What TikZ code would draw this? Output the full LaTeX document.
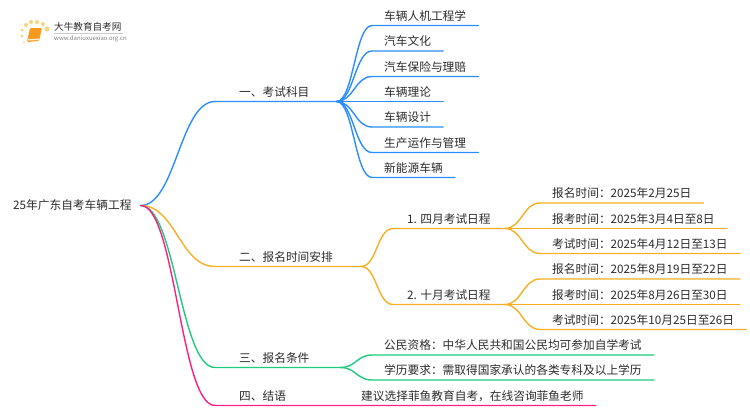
\documentclass[tikz,border=0pt]{standalone}
\usepackage{fontspec}
\setmainfont{Noto Sans CJK SC}
\usetikzlibrary{positioning}

\definecolor{inkgrey}{HTML}{2B2B2B}
\definecolor{blueline}{HTML}{2A8EFF}
\definecolor{orangeline}{HTML}{FAAE24}
\definecolor{greenline}{HTML}{1FCB7E}
\definecolor{pinkline}{HTML}{FF1F80}
\definecolor{bookorange}{HTML}{F79A1E}
\definecolor{dotyellow}{HTML}{FBD27A}

\tikzset{
  topic/.style={anchor=south west,inner ysep=3.2pt,text height=10pt,text depth=2pt,
    text=inkgrey,font=\fontsize{11.7pt}{12pt}\selectfont},
  main/.style={topic,inner xsep=24pt},
  sub/.style={topic,inner xsep=14pt},
  leaf/.style={topic,inner xsep=12pt},
  wire/.style={line width=1.4pt,line cap=round,line join=round},
  dot/.style={circle,fill=dotyellow,inner sep=0pt}
}

\begin{document}
\begin{tikzpicture}[x=1pt,y=-1pt]
\useasboundingbox (0,0) rectangle (750,410);

% logo
\node (dot1) [dot,minimum size=3pt] at (22,36) {};
\node (dot2) [dot,minimum size=3pt] at (22,30) {};
\node (dot3) [dot,minimum size=4pt] at (26,25) {};
\node (dot4) [dot,minimum size=4pt] at (31,22) {};
\node (dot5) [dot,minimum size=4pt] at (37,22) {};
\node (dot6) [dot,minimum size=4pt] at (43,24) {};
\node (dot7) [dot,minimum size=5pt] at (47,29) {};
\node (dot8) [dot,minimum size=2pt] at (24,42) {};
\fill[bookorange,rounded corners=1pt] (30,28) -- (42,28) -- (39,41) -- (27,42) -- cycle;
\fill[white!80!bookorange] (28.5,39) -- (39.5,38.5) -- (39,40) -- (28,40.5) -- cycle;
\node (logotext) [inner sep=0pt,anchor=west,text=inkgrey,font=\fontsize{9.6pt}{10pt}\selectfont] at (54,26.5) {大牛教育自考网};
\node (logourl) [inner sep=0pt,anchor=west,text=gray,font=\fontsize{6pt}{7pt}\selectfont] at (54,39) {www.daniuxuexiao.org.cn};
\draw[gray!40,line width=.5pt] (54,33) -- (123,33);

\node (root) [anchor=west,inner sep=0pt,text=inkgrey,font=\fontsize{11.7pt}{12pt}\selectfont] at (13,205.5) {25年广东自考车辆工程};
\coordinate[right=9pt of root] (hub);

\node (a) [main] at (215,101.5) {一、考试科目};
\node (b) [main] at (215,266.5) {二、报名时间安排};
\node (c) [main] at (215,367.5) {三、报名条件};
\node (d) [main] at (215,405.5) {四、结语};
\coordinate[right=3pt of a.south east] (ja);
\coordinate[right=4pt of b.south east] (jb);
\coordinate[right=7pt of c.south east] (jc);

\node (a1) [leaf] at (372,25.5) {车辆人机工程学};
\node (a2) [leaf] at (372,51) {汽车文化};
\node (a3) [leaf] at (372,76.5) {汽车保险与理赔};
\node (a4) [leaf] at (372,101.5) {车辆理论};
\node (a5) [leaf] at (372,127) {车辆设计};
\node (a6) [leaf] at (372,152.5) {生产运作与管理};
\node (a7) [leaf] at (372,177.5) {新能源车辆};

\node (b1) [sub] at (393,228.5) {1. 四月考试日程};
\node (b2) [sub] at (393,304.5) {2. 十月考试日程};
\node (b11) [leaf] at (540,203) {报名时间：2025年2月25日};
\node (b12) [leaf] at (540,228.5) {报考时间：2025年3月4日至8日};
\node (b13) [leaf] at (540,253.5) {考试时间：2025年4月12日至13日};
\node (b21) [leaf] at (540,279) {报名时间：2025年8月19日至22日};
\node (b22) [leaf] at (540,304.5) {报考时间：2025年8月26日至30日};
\node (b23) [leaf] at (540,329.5) {考试时间：2025年10月25日至26日};

\node (c1) [leaf] at (372,355) {公民资格：中华人民共和国公民均可参加自学考试};
\node (c2) [leaf] at (372,380) {学历要求：需取得国家承认的各类专科及以上学历};
\node (d1) [leaf] at (349,405.5) {建议选择菲鱼教育自考，在线咨询菲鱼老师};

\draw[wire,blueline] (hub) .. controls +(35,0) and +(-35,0) .. (a.south west) -- (ja);
\draw[wire,orangeline] (hub) .. controls +(35,0) and +(-35,0) .. (b.south west) -- (jb);
\draw[wire,greenline] (hub) .. controls +(35,0) and +(-35,0) .. (c.south west) -- (jc);
\draw[wire,pinkline] (hub) .. controls +(35,0) and +(-35,0) .. (d.south west) -- (d1.south east);

\draw[wire,blueline] (ja) .. controls +(17,0) and +(-17,0) .. (a1.south west) -- (a1.south east);
\draw[wire,blueline] (ja) .. controls +(17,0) and +(-17,0) .. (a2.south west) -- (a2.south east);
\draw[wire,blueline] (ja) .. controls +(17,0) and +(-17,0) .. (a3.south west) -- (a3.south east);
\draw[wire,blueline] (ja) -- (a4.south east);
\draw[wire,blueline] (ja) .. controls +(17,0) and +(-17,0) .. (a5.south west) -- (a5.south east);
\draw[wire,blueline] (ja) .. controls +(17,0) and +(-17,0) .. (a6.south west) -- (a6.south east);
\draw[wire,blueline] (ja) .. controls +(17,0) and +(-17,0) .. (a7.south west) -- (a7.south east);

\draw[wire,orangeline] (jb) .. controls +(16,0) and +(-16,0) .. (b1.south west) -- (b1.south east);
\draw[wire,orangeline] (jb) .. controls +(16,0) and +(-16,0) .. (b2.south west) -- (b2.south east);
\draw[wire,orangeline] (b1.south east) .. controls +(17,0) and +(-17,0) .. (b11.south west) -- (b11.south east);
\draw[wire,orangeline] (b1.south east) -- (b12.south east);
\draw[wire,orangeline] (b1.south east) .. controls +(17,0) and +(-17,0) .. (b13.south west) -- (b13.south east);
\draw[wire,orangeline] (b2.south east) .. controls +(17,0) and +(-17,0) .. (b21.south west) -- (b21.south east);
\draw[wire,orangeline] (b2.south east) -- (b22.south east);
\draw[wire,orangeline] (b2.south east) .. controls +(17,0) and +(-17,0) .. (b23.south west) -- (b23.south east);

\draw[wire,greenline] (jc) .. controls +(15,0) and +(-15,0) .. (c1.south west) -- (c1.south east);
\draw[wire,greenline] (jc) .. controls +(15,0) and +(-15,0) .. (c2.south west) -- (c2.south east);
\end{tikzpicture}
\end{document}
